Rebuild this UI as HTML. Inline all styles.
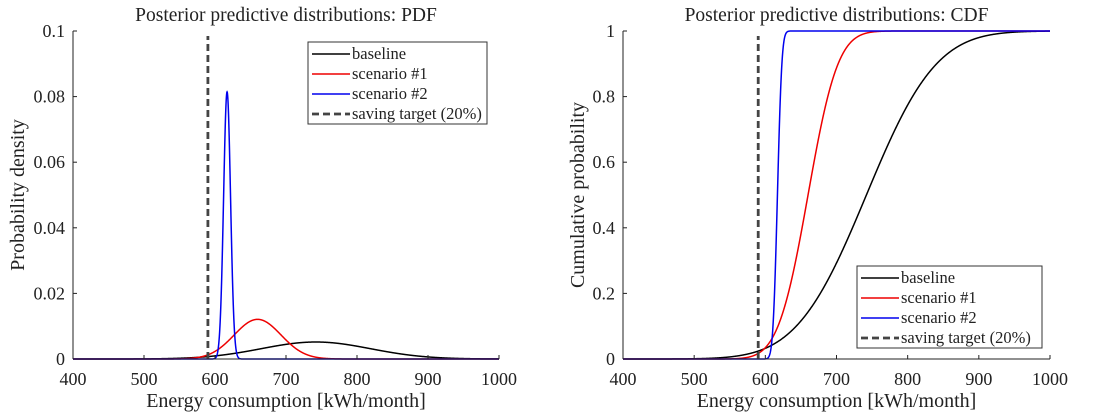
<!DOCTYPE html>
<html><head><meta charset="utf-8"><style>
body{margin:0;background:#fff;width:1102px;height:413px;overflow:hidden}
svg text{font-family:"Liberation Serif",serif;fill:#222}
</style></head><body>
<svg id="chart" width="1102" height="413"></svg>
<script>
const seriesNames=["baseline","scenario #1","scenario #2"];
const seriesColors=["#000","#e00","#00e"];
const seriesMeans=[742,660,617];
const seriesSds=[77,33,4.9];
const savingTarget=590;
const xTicks=[400,500,600,700,800,900,1000];
const pdfTicks=[0,0.02,0.04,0.06,0.08,0.1];
const pdfTickLabels=["0","0.02","0.04","0.06","0.08","0.1"];
const cdfTicks=[0,0.2,0.4,0.6,0.8,1];
const cdfTickLabels=["0","0.2","0.4","0.6","0.8","1"];
const NS="http://www.w3.org/2000/svg";
const svg=document.getElementById('chart');
function mk(tag,attrs,parent,text){const e=document.createElementNS(NS,tag);for(const k in attrs)e.setAttribute(k,attrs[k]);if(text!==undefined)e.textContent=text;(parent||svg).appendChild(e);return e;}
function erf(x){const s=Math.sign(x);x=Math.abs(x);const t=1/(1+0.3275911*x);const y=1-(((((1.061405429*t-1.453152027)*t)+1.421413741)*t-0.284496736)*t+0.254829592)*t*Math.exp(-x*x);return s*y;}
function pdf(x,m,s){return Math.exp(-0.5*((x-m)/s)**2)/(s*Math.sqrt(2*Math.PI));}
function cdf(x,m,s){return 0.5*(1+erf((x-m)/(s*Math.SQRT2)));}
function panel(cfg){
  const g=mk('g',{});
  
  
  const X=v=>cfg.x0+(v-400)/600*(cfg.x1-cfg.x0);
  const Y=v=>cfg.y0-(v/cfg.ymax)*(cfg.y0-cfg.y1);
  const t=mk('text',{x:(cfg.x0+cfg.x1)/2,y:21,'text-anchor':'middle','font-size':19.5},g,cfg.title);
  
  seriesNames.forEach((n,i)=>{
    let d='';
    for(let v=400;v<=1000;v+=0.25){const yv=cfg.fn(v,seriesMeans[i],seriesSds[i]);d+=(d?'L':'M')+X(v).toFixed(2)+','+Y(yv).toFixed(2);}
    const p=mk('path',{d:d,fill:'none',stroke:seriesColors[i],'stroke-width':1.5},g);
    
    
  });
  const dl=mk('line',{x1:X(savingTarget),x2:X(savingTarget),y1:Y(0),y2:cfg.y1+5,stroke:'#444','stroke-width':2.8,'stroke-dasharray':'7,4'},g);
  
  mk('line',{x1:cfg.x0,x2:cfg.x1,y1:cfg.y0,y2:cfg.y0,stroke:'#222','stroke-width':1},g);
  mk('line',{x1:cfg.x0,x2:cfg.x0,y1:cfg.y0,y2:cfg.y1,stroke:'#222','stroke-width':1},g);
  xTicks.forEach(v=>{
    mk('line',{x1:X(v),x2:X(v),y1:cfg.y0,y2:cfg.y0-4,stroke:'#222'},g);
    const tl=mk('text',{x:X(v),y:cfg.y0+26,'text-anchor':'middle','font-size':18},g,String(v));
    
  });
  cfg.yt.forEach((v,i)=>{
    mk('line',{x1:cfg.x0,x2:cfg.x0+4,y1:Y(v),y2:Y(v),stroke:'#222'},g);
    const tl=mk('text',{x:cfg.x0-8,y:Y(v)+6,'text-anchor':'end','font-size':18},g,cfg.ytl[i]);
    
  });
  const xt=mk('text',{x:(cfg.x0+cfg.x1)/2,y:407,'text-anchor':'middle','font-size':20},g,'Energy consumption [kWh/month]');
  
  const yt=mk('text',{x:0,y:0,'text-anchor':'middle','font-size':20,transform:`translate(${cfg.ytx},${(cfg.y0+cfg.y1)/2}) rotate(-90)`},g,cfg.ylabel);
  
  const L=cfg.leg;
  const lg=mk('g',{},g);
  
  mk('rect',{x:L.x,y:L.y,width:L.w,height:L.h,fill:'#fff',stroke:'#333','stroke-width':1},lg);
  const items=seriesNames.concat(['saving target (20%)']);
  items.forEach((n,i)=>{
    const yy=L.y+12+i*20;
    const col=i<3?seriesColors[i]:'#444';
    mk('line',{x1:L.x+4,x2:L.x+42,y1:yy,y2:yy,stroke:col,'stroke-width':i<3?1.5:2.8,'stroke-dasharray':i<3?'none':'7,4'},lg);
    const et=mk('text',{x:L.x+44,y:yy+5,'font-size':16.5},lg,n);
    
  });
}
panel({name:'pdf-panel',title:'Posterior predictive distributions: PDF',x0:73,x1:499,y0:359,y1:31,ymax:0.1,fn:pdf,yt:pdfTicks,ytl:pdfTickLabels,ylabel:'Probability density',ytx:24,leg:{x:308,y:42,w:179,h:82}});
panel({name:'cdf-panel',title:'Posterior predictive distributions: CDF',x0:623,x1:1050,y0:359,y1:31,ymax:1,fn:cdf,yt:cdfTicks,ytl:cdfTickLabels,ylabel:'Cumulative probability',ytx:584,leg:{x:857,y:266,w:185,h:82}});
</script>
</body></html>
